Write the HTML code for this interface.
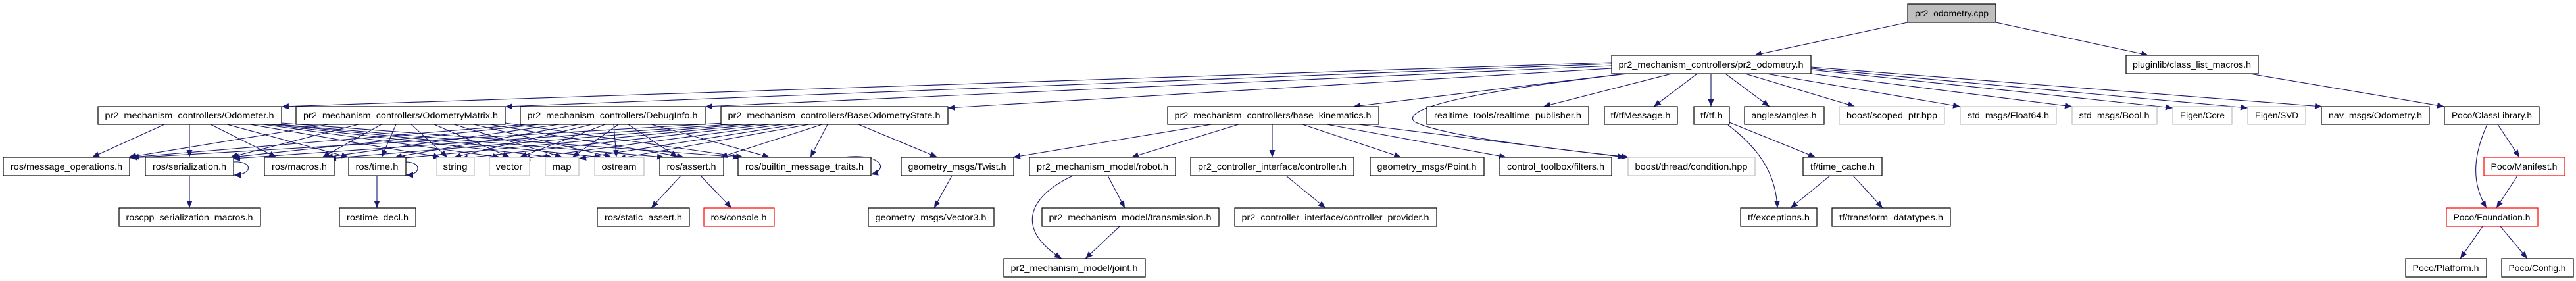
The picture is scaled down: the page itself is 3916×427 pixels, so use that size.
<!DOCTYPE html>
<html><head><meta charset="utf-8"><style>
html,body{margin:0;padding:0;background:#fff;}
svg{display:block;}
text{font-family:"Liberation Sans",sans-serif;font-size:14px;text-anchor:middle;fill:#000;}
.b{fill:#fff;stroke:#000;stroke-width:1.2;}
.g{fill:#fff;stroke:#bfbfbf;stroke-width:1.2;}
.r{fill:#fff;stroke:#ff0000;stroke-width:1.2;}
.e{fill:none;stroke:#191970;stroke-width:1.1;marker-end:url(#a);}
</style></head><body>
<svg width="3916" height="427" viewBox="0 0 3916 427" xmlns="http://www.w3.org/2000/svg">
<defs><marker id="a" markerUnits="userSpaceOnUse" markerWidth="12" markerHeight="10" refX="11" refY="4.5" orient="auto"><path d="M0,0 L11,4.5 L0,9 z" fill="#191970"/></marker></defs>
<g>
<path class="e" d="M2900,34 L2667,84"/>
<path class="e" d="M3034,34 L3266,84"/>
<path class="e" d="M3420,112 L3716,162"/>
<path class="e" d="M2450,95 L428,162"/>
<path class="e" d="M2450,97 L768,162"/>
<path class="e" d="M2450,100 L1072,162"/>
<path class="e" d="M2450,104 L1441,164"/>
<path class="e" d="M2470,112 L2057,162"/>
<path class="e" d="M2475,112 C2230,140 2130,165 2150,185 C2200,210 2400,230 2476,239"/>
<path class="e" d="M2541,112 L2346,162"/>
<path class="e" d="M2580,112 L2514,162"/>
<path class="e" d="M2601,112 L2601,162"/>
<path class="e" d="M2623,112 L2690,162"/>
<path class="e" d="M2653,112 L2820,162"/>
<path class="e" d="M2685,112 L2980,162"/>
<path class="e" d="M2753,112 L3150,162"/>
<path class="e" d="M2753,106 L3303,164"/>
<path class="e" d="M2753,104 L3417,164"/>
<path class="e" d="M2753,102 L3530,162"/>
<!-- row2 -> row3 dense -->
<path class="e" d="M250,189 L140,239"/><path class="e" d="M288,189 L288,239"/><path class="e" d="M320,189 L420,239"/><path class="e" d="M345,189 L530,239"/><path class="e" d="M380,189 L670,239"/><path class="e" d="M400,189 L760,239"/><path class="e" d="M410,189 L840,239"/><path class="e" d="M420,189 L915,239"/><path class="e" d="M425,189 L1010,239"/><path class="e" d="M428,187 L1125,239"/>
<path class="e" d="M500,189 L195,239"/><path class="e" d="M545,189 L350,239"/><path class="e" d="M580,189 L490,239"/><path class="e" d="M602,189 L580,239"/><path class="e" d="M625,189 L680,239"/><path class="e" d="M660,189 L775,239"/><path class="e" d="M690,189 L855,239"/><path class="e" d="M720,189 L930,239"/><path class="e" d="M745,189 L1040,239"/><path class="e" d="M768,187 L1130,239"/>
<path class="e" d="M800,189 L200,239"/><path class="e" d="M820,189 L352,239"/><path class="e" d="M850,189 L495,239"/><path class="e" d="M880,189 L600,239"/><path class="e" d="M900,189 L690,239"/><path class="e" d="M920,189 L790,239"/><path class="e" d="M940,189 L870,239"/><path class="e" d="M933,189 L937,239"/><path class="e" d="M955,189 L1030,239"/><path class="e" d="M990,189 L1170,239"/>
<path class="e" d="M1100,187 L198,240"/><path class="e" d="M1110,189 L354,241"/><path class="e" d="M1130,189 L500,241"/><path class="e" d="M1150,189 L605,241"/><path class="e" d="M1170,189 L700,241"/><path class="e" d="M1190,189 L795,241"/><path class="e" d="M1210,189 L880,241"/><path class="e" d="M1230,189 L940,241"/><path class="e" d="M1250,189 L1095,239"/><path class="e" d="M1258,189 L1232,239"/>
<path class="e" d="M1305,189 L1425,239"/>
<path class="e" d="M355,246 C385,244 385,266 355,266"/>
<path class="e" d="M617,246 C641,246 641,266 617,266"/>
<path class="e" d="M1283,239 C1340,232 1352,258 1324,265"/>
<path class="e" d="M288,267 L288,316"/>
<path class="e" d="M573,267 L573,316"/>
<path class="e" d="M1035,267 L990,316"/>
<path class="e" d="M1065,267 L1112,316"/>
<path class="e" d="M1842,189 L1540,239"/>
<path class="e" d="M1883,189 L1720,239"/>
<path class="e" d="M1934,189 L1934,239"/>
<path class="e" d="M1980,189 L2130,239"/>
<path class="e" d="M2017,189 L2290,239"/>
<path class="e" d="M2065,189 L2470,239"/>
<path class="e" d="M1447,267 L1420,316"/>
<path class="e" d="M1631,267 C1560,300 1545,350 1614,393"/>
<path class="e" d="M1684,267 L1710,316"/>
<path class="e" d="M1702,344 L1650,393"/>
<path class="e" d="M1955,267 L2015,316"/>
<path class="e" d="M2629,186 L2760,239"/>
<path class="e" d="M2627,190 C2680,230 2700,270 2702,316"/>
<path class="e" d="M2782,267 L2722,316"/>
<path class="e" d="M2817,267 L2862,316"/>
<path class="e" d="M3781,189 C3758,240 3758,280 3780,316"/>
<path class="e" d="M3797,189 L3830,239"/>
<path class="e" d="M3827,267 L3795,316"/>
<path class="e" d="M3774,344 L3740,393"/>
<path class="e" d="M3801,344 L3842,393"/>
</g>
<g>
<rect x="2900" y="6" width="134" height="28" fill="#bfbfbf" stroke="#000" stroke-width="1.2"/><text x="2967" y="25" textLength="112" lengthAdjust="spacingAndGlyphs">pr2_odometry.cpp</text>
<rect class="b" x="2450" y="84" width="303" height="28"/><text x="2601" y="103" textLength="281" lengthAdjust="spacingAndGlyphs">pr2_mechanism_controllers/pr2_odometry.h</text>
<rect class="b" x="3232" y="84" width="201" height="28"/><text x="3332" y="103" textLength="180" lengthAdjust="spacingAndGlyphs">pluginlib/class_list_macros.h</text>

<rect class="b" x="149" y="162" width="279" height="27"/><text x="288" y="180" textLength="257" lengthAdjust="spacingAndGlyphs">pr2_mechanism_controllers/Odometer.h</text>
<rect class="b" x="450" y="162" width="318" height="27"/><text x="609" y="180" textLength="296" lengthAdjust="spacingAndGlyphs">pr2_mechanism_controllers/OdometryMatrix.h</text>
<rect class="b" x="791" y="162" width="281" height="27"/><text x="931" y="180" textLength="259" lengthAdjust="spacingAndGlyphs">pr2_mechanism_controllers/DebugInfo.h</text>
<rect class="b" x="1096" y="162" width="345" height="27"/><text x="1268" y="180" textLength="323" lengthAdjust="spacingAndGlyphs">pr2_mechanism_controllers/BaseOdometryState.h</text>
<rect class="b" x="1775" y="162" width="321" height="27"/><text x="1935" y="180" textLength="299" lengthAdjust="spacingAndGlyphs">pr2_mechanism_controllers/base_kinematics.h</text>
<rect class="b" x="2169" y="162" width="246" height="27"/><text x="2292" y="180" textLength="224" lengthAdjust="spacingAndGlyphs">realtime_tools/realtime_publisher.h</text>
<rect class="b" x="2439" y="162" width="111" height="27"/><text x="2494" y="180" textLength="91" lengthAdjust="spacingAndGlyphs">tf/tfMessage.h</text>
<rect class="b" x="2575" y="162" width="54" height="27"/><text x="2602" y="180" textLength="34" lengthAdjust="spacingAndGlyphs">tf/tf.h</text>
<rect class="b" x="2652" y="162" width="121" height="27"/><text x="2712" y="180" textLength="99" lengthAdjust="spacingAndGlyphs">angles/angles.h</text>
<rect class="g" x="2796" y="162" width="160" height="27"/><text x="2876" y="180" textLength="138" lengthAdjust="spacingAndGlyphs">boost/scoped_ptr.hpp</text>
<rect class="g" x="2980" y="162" width="146" height="27"/><text x="3053" y="180" textLength="124" lengthAdjust="spacingAndGlyphs">std_msgs/Float64.h</text>
<rect class="g" x="3150" y="162" width="129" height="27"/><text x="3214" y="180" textLength="107" lengthAdjust="spacingAndGlyphs">std_msgs/Bool.h</text>
<rect class="g" x="3303" y="162" width="90" height="27"/><text x="3348" y="180" textLength="68" lengthAdjust="spacingAndGlyphs">Eigen/Core</text>
<rect class="g" x="3417" y="162" width="88" height="27"/><text x="3461" y="180" textLength="66" lengthAdjust="spacingAndGlyphs">Eigen/SVD</text>
<rect class="b" x="3529" y="162" width="164" height="27"/><text x="3611" y="180" textLength="142" lengthAdjust="spacingAndGlyphs">nav_msgs/Odometry.h</text>
<rect class="b" x="3716" y="162" width="144" height="27"/><text x="3788" y="180" textLength="122" lengthAdjust="spacingAndGlyphs">Poco/ClassLibrary.h</text>

<rect class="b" x="5" y="239" width="192" height="28"/><text x="101" y="258" textLength="170" lengthAdjust="spacingAndGlyphs">ros/message_operations.h</text>
<rect class="b" x="221" y="239" width="134" height="28"/><text x="288" y="258" textLength="112" lengthAdjust="spacingAndGlyphs">ros/serialization.h</text>
<rect class="b" x="402" y="239" width="106" height="28"/><text x="455" y="258" textLength="84" lengthAdjust="spacingAndGlyphs">ros/macros.h</text>
<rect class="b" x="530" y="239" width="87" height="28"/><text x="573" y="258" textLength="65" lengthAdjust="spacingAndGlyphs">ros/time.h</text>
<rect class="g" x="664" y="239" width="57" height="28"/><text x="692" y="258" textLength="37" lengthAdjust="spacingAndGlyphs">string</text>
<rect class="g" x="744" y="239" width="61" height="28"/><text x="774" y="258" textLength="41" lengthAdjust="spacingAndGlyphs">vector</text>
<rect class="g" x="829" y="239" width="51" height="28"/><text x="854" y="258" textLength="29" lengthAdjust="spacingAndGlyphs">map</text>
<rect class="g" x="904" y="239" width="75" height="28"/><text x="941" y="258" textLength="53" lengthAdjust="spacingAndGlyphs">ostream</text>
<rect class="b" x="1003" y="239" width="97" height="28"/><text x="1051" y="258" textLength="75" lengthAdjust="spacingAndGlyphs">ros/assert.h</text>
<rect class="b" x="1122" y="239" width="202" height="28"/><text x="1223" y="258" textLength="180" lengthAdjust="spacingAndGlyphs">ros/builtin_message_traits.h</text>
<rect class="b" x="1370" y="239" width="171" height="28"/><text x="1455" y="258" textLength="149" lengthAdjust="spacingAndGlyphs">geometry_msgs/Twist.h</text>
<rect class="b" x="1565" y="239" width="222" height="28"/><text x="1676" y="258" textLength="200" lengthAdjust="spacingAndGlyphs">pr2_mechanism_model/robot.h</text>
<rect class="b" x="1810" y="239" width="248" height="28"/><text x="1934" y="258" textLength="226" lengthAdjust="spacingAndGlyphs">pr2_controller_interface/controller.h</text>
<rect class="b" x="2083" y="239" width="173" height="28"/><text x="2169" y="258" textLength="151" lengthAdjust="spacingAndGlyphs">geometry_msgs/Point.h</text>
<rect class="b" x="2280" y="239" width="170" height="28"/><text x="2365" y="258" textLength="148" lengthAdjust="spacingAndGlyphs">control_toolbox/filters.h</text>
<rect class="g" x="2475" y="239" width="193" height="28"/><text x="2571" y="258" textLength="171" lengthAdjust="spacingAndGlyphs">boost/thread/condition.hpp</text>
<rect class="b" x="2741" y="239" width="120" height="28"/><text x="2801" y="258" textLength="98" lengthAdjust="spacingAndGlyphs">tf/time_cache.h</text>
<rect class="r" x="3776" y="239" width="123" height="28"/><text x="3837" y="258" textLength="101" lengthAdjust="spacingAndGlyphs">Poco/Manifest.h</text>

<rect class="b" x="181" y="316" width="215" height="28"/><text x="288" y="335" textLength="193" lengthAdjust="spacingAndGlyphs">roscpp_serialization_macros.h</text>
<rect class="b" x="516" y="316" width="116" height="28"/><text x="574" y="335" textLength="94" lengthAdjust="spacingAndGlyphs">rostime_decl.h</text>
<rect class="b" x="908" y="316" width="140" height="28"/><text x="978" y="335" textLength="118" lengthAdjust="spacingAndGlyphs">ros/static_assert.h</text>
<rect class="r" x="1070" y="316" width="107" height="28"/><text x="1123" y="335" textLength="85" lengthAdjust="spacingAndGlyphs">ros/console.h</text>
<rect class="b" x="1320" y="316" width="191" height="28"/><text x="1415" y="335" textLength="169" lengthAdjust="spacingAndGlyphs">geometry_msgs/Vector3.h</text>
<rect class="b" x="1584" y="316" width="269" height="28"/><text x="1718" y="335" textLength="247" lengthAdjust="spacingAndGlyphs">pr2_mechanism_model/transmission.h</text>
<rect class="b" x="1877" y="316" width="307" height="28"/><text x="2030" y="335" textLength="285" lengthAdjust="spacingAndGlyphs">pr2_controller_interface/controller_provider.h</text>
<rect class="b" x="2646" y="316" width="116" height="28"/><text x="2704" y="335" textLength="94" lengthAdjust="spacingAndGlyphs">tf/exceptions.h</text>
<rect class="b" x="2785" y="316" width="180" height="28"/><text x="2875" y="335" textLength="158" lengthAdjust="spacingAndGlyphs">tf/transform_datatypes.h</text>
<rect class="r" x="3719" y="316" width="139" height="28"/><text x="3788" y="335" textLength="117" lengthAdjust="spacingAndGlyphs">Poco/Foundation.h</text>

<rect class="b" x="1526" y="393" width="215" height="28"/><text x="1633" y="412" textLength="193" lengthAdjust="spacingAndGlyphs">pr2_mechanism_model/joint.h</text>
<rect class="b" x="3657" y="393" width="123" height="28"/><text x="3718" y="412" textLength="101" lengthAdjust="spacingAndGlyphs">Poco/Platform.h</text>
<rect class="b" x="3803" y="393" width="109" height="28"/><text x="3857" y="412" textLength="87" lengthAdjust="spacingAndGlyphs">Poco/Config.h</text>
</g>
</svg>
</body></html>
